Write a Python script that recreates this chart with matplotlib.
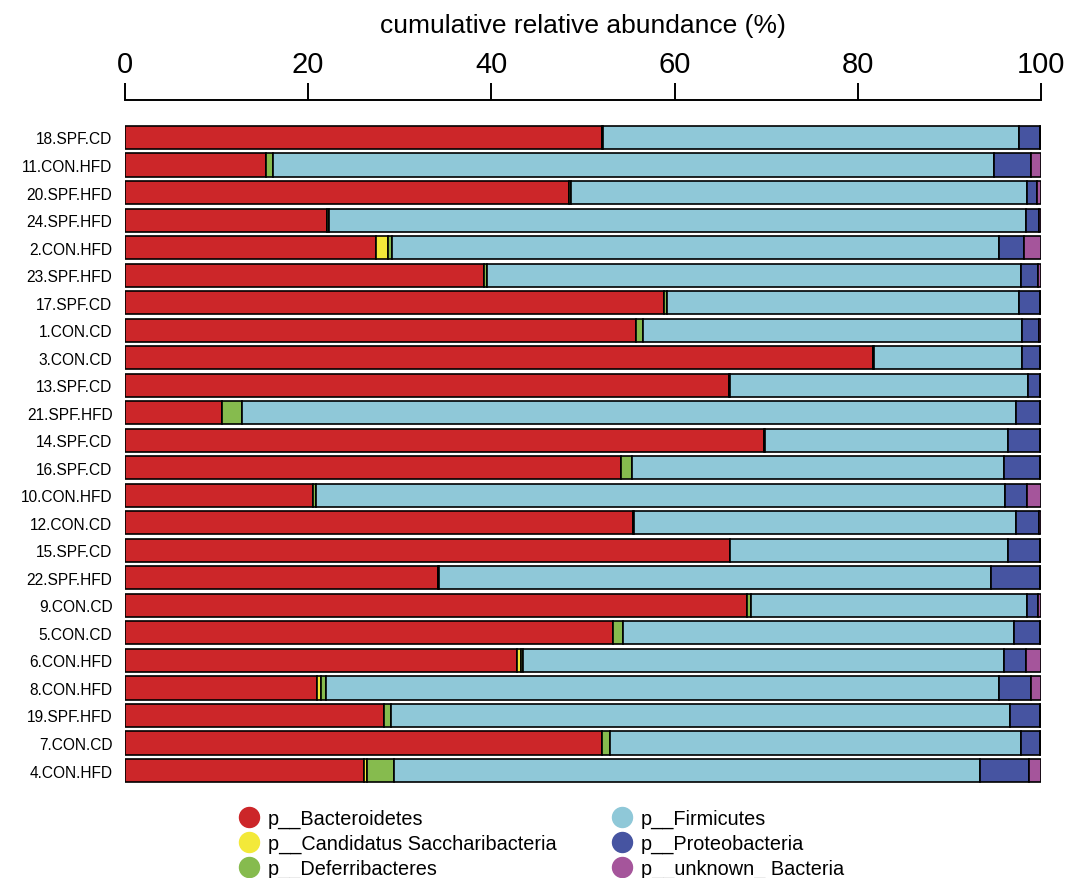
import matplotlib
matplotlib.use("Agg")
import matplotlib.pyplot as plt
from matplotlib.lines import Line2D
import numpy as np

plt.rcParams['font.family'] = ['Liberation Sans', 'DejaVu Sans']

# sample order, top to bottom
samples = ["18.SPF.CD", "11.CON.HFD", "20.SPF.HFD", "24.SPF.HFD", "2.CON.HFD",
           "23.SPF.HFD", "17.SPF.CD", "1.CON.CD", "3.CON.CD", "13.SPF.CD",
           "21.SPF.HFD", "14.SPF.CD", "16.SPF.CD", "10.CON.HFD", "12.CON.CD",
           "15.SPF.CD", "22.SPF.HFD", "9.CON.CD", "5.CON.CD", "6.CON.HFD",
           "8.CON.HFD", "19.SPF.HFD", "7.CON.CD", "4.CON.HFD"]

# relative abundance (%) per phylum
bacteroidetes = [52.1, 15.4, 48.5, 22.1, 27.4, 39.2, 58.8, 55.8, 81.7, 65.9, 10.6, 69.8,
                 54.1, 20.5, 55.5, 66.0, 34.2, 67.9, 53.3, 42.8, 21.0, 28.3, 52.1, 26.1]
saccharibacteria = [0, 0, 0, 0, 1.3, 0, 0, 0, 0, 0, 0, 0,
                    0, 0, 0, 0, 0, 0, 0, 0.4, 0.4, 0, 0, 0.3]
deferribacteres = [0.1, 0.75, 0.2, 0.2, 0.5, 0.3, 0.4, 0.8, 0.1, 0.1, 2.2, 0.1,
                   1.3, 0.4, 0.1, 0.1, 0.1, 0.4, 1.1, 0.2, 0.6, 0.7, 0.9, 3.0]
firmicutes = [45.4, 78.75, 49.8, 76.1, 66.2, 58.3, 38.4, 41.3, 16.1, 32.6, 84.5, 26.5,
              40.6, 75.2, 41.7, 30.3, 60.2, 30.2, 42.6, 52.6, 73.4, 67.6, 44.8, 63.9]
proteobacteria = [2.3, 4.0, 1.1, 1.4, 2.7, 1.9, 2.3, 1.9, 2.0, 1.3, 2.6, 3.5,
                  3.9, 2.4, 2.5, 3.5, 5.4, 1.2, 2.9, 2.4, 3.5, 3.3, 2.1, 5.4]
unknown = [0.1, 1.1, 0.4, 0.2, 1.9, 0.3, 0.1, 0.2, 0.1, 0.1, 0.1, 0.1,
           0.1, 1.5, 0.2, 0.1, 0.1, 0.3, 0.1, 1.6, 1.1, 0.1, 0.1, 1.3]

phyla = ["p__Bacteroidetes", "p__Candidatus Saccharibacteria", "p__Deferribacteres",
         "p__Firmicutes", "p__Proteobacteria", "p__unknown_ Bacteria"]
colors = ["#CC2629", "#F3E939", "#86BB4E", "#8FC8D8", "#4654A1", "#A5559B"]
series = [bacteroidetes, saccharibacteria, deferribacteres, firmicutes, proteobacteria, unknown]

fig = plt.figure(figsize=(10.81, 8.79), dpi=100)
ax = fig.add_axes([0.1156, 0.1066, 0.8474, 0.7515])

y = np.arange(len(samples))
left = np.zeros(len(samples))
for vals, col in zip(series, colors):
    vals = np.array(vals, dtype=float)
    ax.barh(y, vals, left=left, height=0.84, color=col, edgecolor="black", linewidth=1.2)
    left += vals

ax.set_xlim(0, 100)
ax.set_ylim(len(samples) - 0.5, -0.5)
ax.set_yticks(y)
ax.set_yticklabels(samples, fontsize=11.2)
ax.tick_params(axis="y", length=0, pad=9)

# percentage axis along the top
ax.xaxis.tick_top()
ax.xaxis.set_label_position("top")
ax.set_xticks([0, 20, 40, 60, 80, 100])
ax.tick_params(axis="x", labelsize=21, length=12, width=1.4, pad=4)
ax.set_xlabel("cumulative relative abundance (%)", fontsize=19, labelpad=13)
for s in ["left", "right", "bottom"]:
    ax.spines[s].set_visible(False)
ax.spines["top"].set_position(("outward", 17))
ax.spines["top"].set_linewidth(1.4)

handles = [Line2D([], [], marker="o", ls="", markersize=14.4, color=c) for c in colors]
fig.legend(handles, phyla, loc="upper left", bbox_to_anchor=(0.221, 0.079), ncol=2,
           frameon=False, fontsize=14.3, handlelength=1.0, handletextpad=0.45,
           labelspacing=0.3, columnspacing=2.8, borderpad=0, borderaxespad=0)

fig.savefig("out.png", dpi=100)
